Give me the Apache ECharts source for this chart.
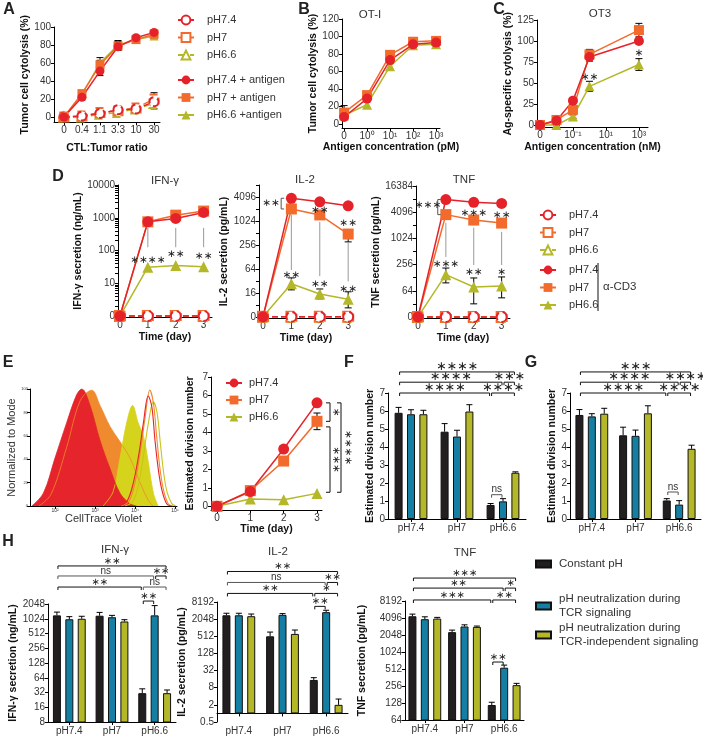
<!DOCTYPE html>
<html><head><meta charset="utf-8">
<script src="https://cdn.jsdelivr.net/npm/echarts@6/dist/echarts.min.js"></script>
<style>html,body{margin:0;padding:0;background:#fff}#c{width:703px;height:737px}</style>
</head><body><div id="c"></div>
<script>
// ================= DATA =================
// Panel A
const A_ratio = ['0','0.4','1.1','3.3','10','30'];
const A_pH74 = [0,1,4,8,9,17];
const A_pH7 = [0,1,5,7,10,20];
const A_pH66 = [0,0,3,5,9,15];
const A_pH74_err = [0,1,1,3,2,6];
const A_pH7_err = [0,1,2,4,2,7];
const A_pH66_err = [0,1,1,4,2,6];
const A_pH74ag = [0,22,51,78,88,94];
const A_pH7ag = [0,26,58,79,86,92];
const A_pH66ag = [0,25,60,80,86,90];
const A_pH74ag_err = [0,3,5,4,2,2];
const A_pH7ag_err = [0,3,5,5,2,2];
const A_pH66ag_err = [0,2,6,5,2,2];
// Panel B (OT-I)
const B_conc = [0,1,10,100,1000];
const B_labels = ['0','10⁰','10¹','10²','10³'];
const B_pH74 = [8,29,73,91,93];
const B_pH7 = [13,33,79,94,95];
const B_pH66 = [10,22,66,90,91];
const B_err = [8,3,3,2,2];
// Panel C (OT3)
const C_conc = [0,0.01,0.1,1,1000];
const C_labels = {'-3':'0','-1':'10⁻¹','1':'10¹','3':'10³'};
const C_pH74 = [0,5,29,81,100];
const C_pH7 = [0,6,18,84,113];
const C_pH66 = [0,0,10,46,72];
const C_pH74_err = [0,2,3,5,3];
const C_pH7_err = [0,2,3,6,8];
const C_pH66_err = [0,1,2,6,7];
const C_stars = [[1,57,'**'],[1000,85,'*']];
// Panel D
const D_day = [0,1,2,3];
const D_ctrl = [0,0,0,0];
const D_IFN_pH74 = [0,750,950,1450];
const D_IFN_pH7 = [0,750,1200,1600];
const D_IFN_pH66 = [0,31,35,32];
const D_IL2_pH74 = [0,3800,3100,2450];
const D_IL2_pH7 = [0,2048,1450,480];
const D_IL2_pH7_lo = [0,2048,1450,305];
const D_IL2_pH66 = [0,27,15,11];
const D_IL2_pH66_lo = [0,19,11.3,6.7];
const D_IL2_pH66_hi = [0,38,20,17];
const D_TNF_pH74 = [0,8000,6900,6500];
const D_TNF_pH7 = [0,3600,2700,2300];
const D_TNF_pH66 = [0,150,78,82];
const D_TNF_pH66_lo = [0,97,32,44];
const D_TNF_pH66_hi = [0,213,126,133];
// Panel D annotations: [day, from, to] and [day, y, text]
const D_IFN_lines = [[1,490,126],[2,490,126],[3,490,126]];
const D_IFN_stars = [[1,51,'****'],[2,78,'**'],[3,68,'**']];
const D_IL2_lines = [[1,1450,60],[2,965,42],[3,287,31]];
const D_IL2_stars = [[1,45,'**'],[2,27,'**'],[3,20,'**'],[2,1930,'**'],[3,910,'**'],[0.28,2900,'**']];
const D_IL2_brk = [0.64,3800,2048];
const D_TNF_lines = [[1,2330,383],[2,1800,250],[3,1450,250]];
const D_TNF_stars = [[1,265,'***'],[2,173,'**'],[3,173,'*'],[2,3930,'***'],[3,3570,'**'],[0.36,6000,'***']];
const D_TNF_brk = [0.71,8000,3600];
// Panel E histogram (log10 fluorescence, % of mode)
const H_red_fill = [[1.42,0],[1.71,11],[2.0,41],[2.29,71],[2.54,95],[2.67,100],[2.875,86],[3.125,56],[3.375,32],[3.625,11],[3.875,2],[4.04,0]];
const H_org_fill = [[1.6,0],[1.9,10],[2.29,50],[2.63,90],[2.92,99],[3.125,86],[3.375,68],[3.625,55],[3.875,41],[4.125,20],[4.33,5],[4.45,0]];
const H_olv_fill = [[3.2,0],[3.45,12],[3.625,41],[3.79,71],[3.94,86],[4.08,71],[4.21,60],[4.33,38],[4.46,11],[4.58,0]];
const H_red_open = [[3.6,0],[3.8,4],[3.96,20],[4.1,45],[4.21,71],[4.33,94],[4.42,85],[4.5,56],[4.58,32],[4.67,14],[4.79,2],[4.9,0]];
const H_org_open = [[3.65,0],[3.85,4],[4.0,20],[4.14,48],[4.25,75],[4.37,99],[4.46,88],[4.54,60],[4.62,33],[4.71,14],[4.83,2],[4.95,0]];
const H_olv_open = [[3.75,0],[3.95,4],[4.1,20],[4.22,45],[4.33,70],[4.46,89],[4.55,80],[4.63,55],[4.71,30],[4.8,12],[4.92,2],[5.02,0]];
const Hist_labels = {2:'10²',3:'10³',4:'10⁴',5:'10⁵'};
// Panel E division
const E_day = [0,1,2,3];
const E_pH74 = [0,0.8,3.1,5.6];
const E_pH7 = [0,0.85,2.45,4.6];
const E_pH66 = [0,0.4,0.35,0.7];
const E_pH7_err = [0,0.1,0.1,0.45];
const E_brk = [[3.39,5.6,4.6,'*',3.56],[3.39,4.3,0.76,'***',3.56],[3.72,5.6,0.76,'****',3.93]];
// Panels F, G, H
const groups = ['pH7.4','pH7','pH6.6'];
const condNames = ['Constant pH','pH neutralization during\nTCR signaling','pH neutralization during\nTCR-independent signaling'];
const F_const = [5.9,4.85,0.78], F_tcr = [5.82,4.58,0.98], F_ind = [5.82,5.97,2.57];
const F_const_e = [0.3,0.45,0.08], F_tcr_e = [0.25,0.35,0.15], F_ind_e = [0.22,0.38,0.05];
const G_const = [5.78,4.65,1.03], G_tcr = [5.7,4.62,0.8], G_ind = [5.85,5.87,3.9];
const G_const_e = [0.3,0.45,0.1], G_tcr_e = [0.15,0.32,0.22], G_ind_e = [0.3,0.42,0.2];
const HI_const = [1200,1180,31], HI_tcr = [1000,1100,1200], HI_ind = [1024,900,31];
const HI_const_u = [1400,1380,38], HI_tcr_u = [1130,1200,1900], HI_ind_u = [1150,980,36];
const HL_const = [2800,512,15], HL_tcr = [2800,2900,3600], HL_ind = [2600,620,2];
const HL_const_u = [3300,720,18], HL_tcr_u = [3300,3200,4200], HL_ind_u = [3100,850,3.2];
const HT_const = [4400,2300,118], HT_tcr = [3900,2900,540], HT_ind = [4000,2850,265];
const HT_const_u = [4800,2500,132], HT_tcr_u = [4300,3100,600], HT_ind_u = [4200,2950,285];
// brackets: [groupA, barA(-1,0,1), groupB, barB, level (axis units), text]
const F_br = [[0,-1,2,1,8.17,'****'],[0,-1,2,0,7.6,'****'],[2,0,2,1,7.6,'***'],[0,-1,2,-1,7.0,'****'],[2,-1,2,1,7.0,'****'],[2,-1,2,0,1.35,'ns']];
const G_br = [[0,-1,2,1,8.17,'***'],[0,-1,2,0,7.6,'****'],[2,0,2,1,7.6,'****'],[0,-1,2,-1,7.0,'****'],[2,-1,2,1,7.0,'****'],[2,-1,2,0,1.5,'ns']];
const HI_br = [[0,-1,2,1,13.58,'**'],[0,-1,2,0,12.9,'ns'],[2,0,2,1,12.9,'**'],[0,-1,2,-1,12.15,'**'],[2,-1,2,1,12.15,'ns'],[2,-1,2,0,11.2,'**']];
const HL_br = [[0,-1,2,1,16.56,'**'],[0,-1,2,0,15.28,'ns'],[2,0,2,1,15.28,'**'],[0,-1,2,-1,14.0,'**'],[2,-1,2,1,14.0,'*'],[2,-1,2,0,12.49,'**']];
const HT_br = [[0,-1,2,1,14.35,'***'],[0,-1,2,0,13.76,'**'],[2,0,2,1,13.76,'*'],[0,-1,2,-1,13.06,'***'],[2,-1,2,1,13.06,'**'],[2,-1,2,0,9.41,'**']];

// ================= STYLE / HELPERS =================
const FONT = 'Liberation Sans, Arial, Helvetica, sans-serif';
const RED='#E5222A', ORANGE='#F26B2C', OLIVE='#B4B728', BLACK='#231F20', BLUE='#147FA2';
const lin = v=>v;
const tIFN = v => v>0 ? Math.log10(v) : 0;
const tIL2 = v => v>0 ? Math.log2(v) : 2;
const tTNF = v => v>0 ? Math.log2(v) : 4;
const tL2 = v => Math.log2(v);
const tB = c => c>0 ? Math.log10(c) : -1;
const tC = c => c>0 ? Math.log10(c) : -3;

const grids = [
 {left:54, top:27, width:106, height:95.4},
 {left:342, top:19, width:98, height:109},
 {left:537, top:20, width:111, height:107.5},
 {left:118, top:185, width:94, height:132},
 {left:259, top:185, width:94, height:133},
 {left:416, top:186, width:94, height:132},
 {left:30, top:389, width:147, height:117},
 {left:211, top:377, width:111, height:133},
 {left:388, top:393, width:138, height:126},
 {left:570, top:393, width:131, height:126},
 {left:48, top:604, width:128, height:118},
 {left:217, top:602, width:131, height:120},
 {left:405, top:601, width:119, height:119}
];
const nameStyle = {fontWeight:'bold', fontSize:10.5, color:'#111', fontFamily:FONT};
function vAxis(gi, min, max, ticks, fmt, name, gap, extra, tickVals){
  return Object.assign({type:'value', gridIndex:gi, min, max, name, nameLocation:'middle', nameGap:gap,
    axisLine:{show:true, onZero:false, lineStyle:{color:'#000', width:1}},
    axisTick:{show:true, length:3, customValues:tickVals||ticks, lineStyle:{color:'#000'}},
    axisLabel:{customValues:ticks, formatter:fmt, fontSize:10, color:'#333', fontFamily:FONT, margin:3},
    splitLine:{show:false}, nameTextStyle:nameStyle}, extra||{});
}
function cAxis(gi){
  return {type:'category', gridIndex:gi, data:groups,
    axisLine:{show:true, lineStyle:{color:'#000'}},
    axisTick:{show:true, alignWithLabel:true, length:3, lineStyle:{color:'#000'}},
    axisLabel:{fontSize:10, color:'#333', fontFamily:FONT, margin:4}};
}
function lineS(gi, name, xs, ys, color, sym, size, dashed){
  return {type:'line', name, xAxisIndex:gi, yAxisIndex:gi, data:xs.map((x,i)=>[x,ys[i]]),
    symbol:sym, symbolSize:size, showSymbol:true, clip:false, z:3,
    itemStyle:{color, borderWidth:1.5, borderType: dashed?'dashed':'solid'},
    lineStyle:{color, width:1.5, type: dashed?'dashed':'solid'}, emphasis:{disabled:true}};
}
function errS(gi, xs, lo, hi, half){
  return {type:'custom', xAxisIndex:gi, yAxisIndex:gi, z:2, clip:false, silent:true,
    data: xs.map((x,i)=>[x, lo[i], hi[i]]), encode:{x:0, y:[1,2]},
    renderItem:(p,api)=>{
      const a=api.coord([api.value(0),api.value(1)]), b=api.coord([api.value(0),api.value(2)]), w=half||3.5;
      return {type:'group', children:[
        {type:'line', shape:{x1:a[0],y1:a[1],x2:b[0],y2:b[1]}, style:{stroke:'#000',lineWidth:1}},
        {type:'line', shape:{x1:a[0]-w,y1:a[1],x2:a[0]+w,y2:a[1]}, style:{stroke:'#000',lineWidth:1}},
        {type:'line', shape:{x1:b[0]-w,y1:b[1],x2:b[0]+w,y2:b[1]}, style:{stroke:'#000',lineWidth:1}}]};
    }};
}
const BW = 8, BSP = 12.4;
function barS(gi, k, vals, tf){
  const col = [BLACK,BLUE,OLIVE][k];
  return {type:'bar', name:condNames[k], xAxisIndex:gi, yAxisIndex:gi, data:vals.map(tf),
    barWidth:BW, barGap:'55%', clip:true, z:2,
    itemStyle:{color:col, borderColor:'#111', borderWidth:1}, emphasis:{disabled:true}};
}
function barErr(gi, k, vals, uppers, tf){
  return {type:'custom', xAxisIndex:gi, yAxisIndex:gi, z:3, clip:false, silent:true,
    data: vals.map((v,i)=>[i, tf(v), tf(uppers[i])]), encode:{x:0, y:[1,2]},
    renderItem:(p,api)=>{
      const a=api.coord([api.value(0),api.value(1)]), b=api.coord([api.value(0),api.value(2)]);
      const x=a[0]+(k-1)*BSP;
      return {type:'group', children:[
        {type:'line', shape:{x1:x,y1:a[1],x2:x,y2:b[1]}, style:{stroke:'#000',lineWidth:1}},
        {type:'line', shape:{x1:x-3,y1:b[1],x2:x+3,y2:b[1]}, style:{stroke:'#000',lineWidth:1}}]};
    }};
}
const mapArr = (a,f)=>a.map(f);
const addE = (v,e,s)=>v.map((x,i)=>x+s*e[i]);
// log10 minor tick positions for the IFN axis
const ifnTicks = [];
for (let d=0; d<4; d++) for (let m=1; m<10; m++) ifnTicks.push(d + Math.log10(m));
ifnTicks.push(4);

// ================= AXES =================
const xAxis = [
  vAxis(0,-0.55,5.33,[0,1,2,3,4,5],v=>A_ratio[v],'CTL:Tumor ratio',20),
  vAxis(1,-1.09,3.17,[-1,0,1,2,3],v=>B_labels[v+1],'Antigen concentration (pM)',13),
  vAxis(2,-3.18,3.55,[-3,-1,1,3],v=>C_labels[v],'Antigen concentration (nM)',13),
  vAxis(3,-0.07,3.3,[0,1,2,3],v=>v,'Time (day)',15),
  vAxis(4,-0.14,3.17,[0,1,2,3],v=>v,'Time (day)',15),
  vAxis(5,-0.07,3.3,[0,1,2,3],v=>v,'Time (day)',15),
  vAxis(6,1.375,5.05,[2,3,4,5],v=>Hist_labels[v],'CellTrace Violet',7,
        {nameTextStyle:{fontSize:11,color:'#333',fontFamily:FONT}, axisLabel:{customValues:[2,3,4,5],formatter:v=>Hist_labels[v],fontSize:5,color:'#333',margin:2}}),
  vAxis(7,-0.18,3.15,[0,1,2,3],v=>v,'Time (day)',12),
  cAxis(8), cAxis(9), cAxis(10), cAxis(11), cAxis(12)
];
const yAxis = [
  vAxis(0,-6,100,[0,20,40,60,80,100],v=>v,'Tumor cell cytolysis (%)',14),
  vAxis(1,-4.6,120,[0,20,40,60,80,100,120],v=>v,'Tumor cell cytolysis (%)',22),
  vAxis(2,-3,125,[0,25,50,75,100,125],v=>v,'Ag-specific cytolysis (%)',22),
  vAxis(3,-0.03,4,[0,1,2,3,4],v=>v===0?'0':String(Math.round(Math.pow(10,v))),'IFN-γ secretion (ng/mL)',30,null,ifnTicks),
  vAxis(4,1.9,13,[2,4,6,8,10,12],v=>v===2?'0':String(Math.pow(2,v)),'IL-2 secretion (pg/mL)',24,null,[2,3,4,5,6,7,8,9,10,11,12,13]),
  vAxis(5,3.92,14,[4,6,8,10,12,14],v=>v===4?'0':String(Math.pow(2,v)),'TNF secretion (pg/mL)',31,null,[4,5,6,7,8,9,10,11,12,13,14]),
  vAxis(6,0,100,[0,20,40,60,80,100],v=>v,'Normalized to Mode',10,
        {nameTextStyle:{fontSize:11,color:'#333',fontFamily:FONT}, axisLabel:{customValues:[0,20,40,60,80,100],fontSize:4,color:'#333',margin:2}}),
  vAxis(7,-0.2,7,[0,1,2,3,4,5,6,7],v=>v,'Estimated division number',15),
  vAxis(8,0,7,[0,1,2,3,4,5,6,7],v=>v,'Estimated division number',10),
  vAxis(9,0,7,[0,1,2,3,4,5,6,7],v=>v,'Estimated division number',8),
  vAxis(10,3,11,[3,4,5,6,7,8,9,10,11],v=>String(Math.pow(2,v)),'IFN-γ secretion (ng/mL)',27),
  vAxis(11,-1,13,[-1,1,3,5,7,9,11,13],v=>String(Math.pow(2,v)),'IL-2 secretion (pg/mL)',20),
  vAxis(12,6,13,[6,7,8,9,10,11,12,13],v=>String(Math.pow(2,v)),'TNF secretion (pg/mL)',37)
];

// ================= SERIES =================
const idxA = A_ratio.map((_,i)=>i);
const series = [];
// A
series.push(errS(0,idxA,addE(A_pH66,A_pH66_err,-1),addE(A_pH66,A_pH66_err,1)));
series.push(errS(0,idxA,addE(A_pH7,A_pH7_err,-1),addE(A_pH7,A_pH7_err,1)));
series.push(errS(0,idxA,addE(A_pH74,A_pH74_err,-1),addE(A_pH74,A_pH74_err,1)));
series.push(errS(0,idxA,addE(A_pH66ag,A_pH66ag_err,-1),addE(A_pH66ag,A_pH66ag_err,1)));
series.push(errS(0,idxA,addE(A_pH7ag,A_pH7ag_err,-1),addE(A_pH7ag,A_pH7ag_err,1)));
series.push(errS(0,idxA,addE(A_pH74ag,A_pH74ag_err,-1),addE(A_pH74ag,A_pH74ag_err,1)));
series.push(lineS(0,'pH6.6',idxA,A_pH66,OLIVE,'emptyTriangle',9,true));
series.push(lineS(0,'pH7',idxA,A_pH7,ORANGE,'emptyRect',9,true));
series.push(lineS(0,'pH7.4',idxA,A_pH74,RED,'emptyCircle',9,true));
series.push(lineS(0,'pH6.6 +antigen',idxA,A_pH66ag,OLIVE,'triangle',9,false));
series.push(lineS(0,'pH7 + antigen',idxA,A_pH7ag,ORANGE,'rect',9,false));
series.push(lineS(0,'pH7.4 + antigen',idxA,A_pH74ag,RED,'circle',9,false));
// B
const xB = B_conc.map(tB);
series.push(errS(1,xB,addE(B_pH7,B_err,-1),addE(B_pH7,B_err,1)));
series.push(lineS(1,'B pH6.6',xB,B_pH66,OLIVE,'triangle',10,false));
series.push(lineS(1,'B pH7',xB,B_pH7,ORANGE,'rect',10,false));
series.push(lineS(1,'B pH7.4',xB,B_pH74,RED,'circle',10,false));
// C
const xC = C_conc.map(tC);
series.push(errS(2,xC,addE(C_pH66,C_pH66_err,-1),addE(C_pH66,C_pH66_err,1)));
series.push(errS(2,xC,addE(C_pH7,C_pH7_err,-1),addE(C_pH7,C_pH7_err,1)));
series.push(errS(2,xC,addE(C_pH74,C_pH74_err,-1),addE(C_pH74,C_pH74_err,1)));
series.push(lineS(2,'C pH6.6',xC,C_pH66,OLIVE,'triangle',10,false));
series.push(lineS(2,'C pH7',xC,C_pH7,ORANGE,'rect',10,false));
series.push(lineS(2,'C pH7.4',xC,C_pH74,RED,'circle',10,false));
// D
const Dsets = [
  {gi:3, tf:tIFN, r:D_IFN_pH74, o:D_IFN_pH7, g:D_IFN_pH66},
  {gi:4, tf:tIL2, r:D_IL2_pH74, o:D_IL2_pH7, g:D_IL2_pH66},
  {gi:5, tf:tTNF, r:D_TNF_pH74, o:D_TNF_pH7, g:D_TNF_pH66}
];
Dsets.forEach((d,j)=>{
  const suf = j===0 ? '\u200b' : '\u200b'.repeat(3+j);
  const suf2 = j===0 ? '\u200b\u200b' : '\u200b'.repeat(6+j);
  series.push(lineS(d.gi,'pH6.6'+suf,D_day,mapArr(D_ctrl,d.tf),OLIVE,'emptyTriangle',10,true));
  series.push(lineS(d.gi,'pH7'+suf,D_day,mapArr(D_ctrl,d.tf),ORANGE,'emptyRect',10,true));
  series.push(lineS(d.gi,'pH7.4'+suf,D_day,mapArr(D_ctrl,d.tf),RED,'emptyCircle',10,true));
  series.push(lineS(d.gi,'pH6.6'+suf2,D_day,mapArr(d.g,d.tf),OLIVE,'triangle',11,false));
  series.push(lineS(d.gi,'pH7'+suf2,D_day,mapArr(d.o,d.tf),ORANGE,'rect',11,false));
  series.push(lineS(d.gi,'pH7.4'+suf2,D_day,mapArr(d.r,d.tf),RED,'circle',11,false));
});
series.push(errS(4,D_day.slice(1),D_IL2_pH66_lo.slice(1).map(tIL2),D_IL2_pH66_hi.slice(1).map(tIL2)));
series.push(errS(4,[3],[tIL2(D_IL2_pH7_lo[3])],[tIL2(D_IL2_pH7[3])]));
series.push(errS(5,D_day.slice(1),D_TNF_pH66_lo.slice(1).map(tTNF),D_TNF_pH66_hi.slice(1).map(tTNF)));
// E histogram
function histS(name, pts, color, fill){
  return {type:'line', name, xAxisIndex:6, yAxisIndex:6, data:pts, smooth:0.35, symbol:'none', clip:true,
    lineStyle:{color, width: fill?0.8:1.1}, areaStyle: fill?{color, opacity:1}:undefined, z:2, emphasis:{disabled:true}};
}
series.push(histS('h1',H_org_fill,'#F08A2E',true));
series.push(histS('h2',H_olv_fill,'#D6D31C',true));
series.push(histS('h3',H_red_fill,'#E5252B',true));
series.push(histS('h4',H_olv_open,'#C9C51B',false));
series.push(histS('h5',H_org_open,'#F08A2E',false));
series.push(histS('h6',H_red_open,'#E5252B',false));
// E division
series.push(errS(7,E_day,addE(E_pH7,E_pH7_err,-1),addE(E_pH7,E_pH7_err,1)));
series.push(lineS(7,'pH6.6'+'\u200b'.repeat(10),E_day,E_pH66,OLIVE,'triangle',11,false));
series.push(lineS(7,'pH7'+'\u200b'.repeat(10),E_day,E_pH7,ORANGE,'rect',11,false));
series.push(lineS(7,'pH7.4'+'\u200b'.repeat(10),E_day,E_pH74,RED,'circle',11,false));
// F, G
[[8,[F_const,F_tcr,F_ind],[F_const_e,F_tcr_e,F_ind_e]],[9,[G_const,G_tcr,G_ind],[G_const_e,G_tcr_e,G_ind_e]]].forEach(([gi,vals,errs])=>{
  vals.forEach((v,k)=>{ series.push(barS(gi,k,v,lin)); series.push(barErr(gi,k,v,addE(v,errs[k],1),lin)); });
});
// H
[[10,[HI_const,HI_tcr,HI_ind],[HI_const_u,HI_tcr_u,HI_ind_u]],
 [11,[HL_const,HL_tcr,HL_ind],[HL_const_u,HL_tcr_u,HL_ind_u]],
 [12,[HT_const,HT_tcr,HT_ind],[HT_const_u,HT_tcr_u,HT_ind_u]]].forEach(([gi,vals,ups])=>{
  vals.forEach((v,k)=>{ series.push(barS(gi,k,v,tL2)); series.push(barErr(gi,k,v,ups[k],tL2)); });
});

// ================= LEGENDS =================
const legTxt = {fontSize:11, color:'#333', fontFamily:FONT, padding:[0,0,0,8]};
function leg(names, left, top, gap, extra){
  return Object.assign({data:names, orient:'vertical', left, top, itemGap:gap, itemWidth:16, itemHeight:11,
    padding:0, textStyle:legTxt, selectedMode:false}, extra||{});
}
const barLegTxt = Object.assign({},legTxt,{fontSize:11.5,lineHeight:14,padding:[0,0,0,3]});
const legend = [
  leg(['pH7.4','pH7','pH6.6'],177,14.5,6.5),
  leg(['pH7.4 + antigen','pH7 + antigen','pH6.6 +antigen'],177,74.5,6.5),
  leg(['pH7.4\u200b','pH7\u200b','pH6.6\u200b'],539,209.5,6.5),
  leg(['pH7.4\u200b\u200b','pH7\u200b\u200b','pH6.6\u200b\u200b'],539,264.5,6.5),
  leg(['pH7.4'+'\u200b'.repeat(10),'pH7'+'\u200b'.repeat(10),'pH6.6'+'\u200b'.repeat(10)],225,377.5,6,{textStyle:Object.assign({},legTxt,{padding:[0,0,0,2]})}),
  leg([condNames[0]],535,557,0,{icon:'rect',itemWidth:15,itemHeight:7,textStyle:barLegTxt}),
  leg([condNames[1]],535,592,0,{icon:'rect',itemWidth:15,itemHeight:7,textStyle:barLegTxt}),
  leg([condNames[2]],535,621,0,{icon:'rect',itemWidth:15,itemHeight:7,textStyle:barLegTxt})
];

const chart = echarts.init(document.getElementById('c'), null, {width:703, height:737, renderer:'canvas'});
chart.setOption({animation:false, textStyle:{fontFamily:FONT}, grid:grids, xAxis, yAxis, legend, series});

// ================= ANNOTATIONS (via library scales) =================
const P = (gi,x,y)=>chart.convertToPixel({gridIndex:gi},[x,y]);
const G = [];
const T = (x,y,t,font,opt)=>G.push(Object.assign({type:'text', x, y, z:50, silent:true,
  style:{text:t, font, fill:'#222', align:'center', verticalAlign:'middle', textAlign:'center', textVerticalAlign:'middle'}}, opt||{}));
const L = (x1,y1,x2,y2,c,w)=>G.push({type:'line', z:40, silent:true, shape:{x1,y1,x2,y2}, style:{stroke:c||'#111', lineWidth:w||1}});
const STAR = s=>s.replace(/\*/g,'\u2217');
const sf = s=>s+'px DejaVu Sans';
// panel letters
[['A',9,10],['B',304,10],['C',499,10],['D',58,177],['E',8,363],['F',349,363],['G',531,363],['H',8,542]].forEach(([t,x,y])=>T(x,y,t,'bold 16px '+FONT));
// titles
[['OT-I',370,15],['OT3',600,14],['IFN-γ',165,181],['IL-2',305,180],['TNF',464,180],['IFN-γ',115,550],['IL-2',278,552],['TNF',465,553]].forEach(([t,x,y])=>T(x,y,t,'11.5px '+FONT,{style:{text:t,font:'11.5px '+FONT,fill:'#333',align:'center',verticalAlign:'middle'}}));
// alpha-CD3
L(598,263,598,311,'#111',1);
T(603,287,'α-CD3','11.5px '+FONT,{style:{text:'α-CD3',font:'11.5px '+FONT,fill:'#333',align:'left',verticalAlign:'middle'}});
// C stars
C_stars.forEach(([c,y,t])=>{const p=P(2,tC(c),y); T(p[0],p[1],STAR(t),sf(10.5));});
// D lines and stars
function dAnn(gi, tf, lines, stars){
  lines.forEach(([d,a,b])=>{const p=P(gi,d,tf(a)), q=P(gi,d,tf(b)); L(p[0],p[1],q[0],q[1],'#999',1);});
  stars.forEach(([d,y,t])=>{const p=P(gi,d,tf(y)); T(p[0],p[1],STAR(t),sf(10.5));});
}
dAnn(3,tIFN,D_IFN_lines,D_IFN_stars);
dAnn(4,tIL2,D_IL2_lines,D_IL2_stars);
dAnn(5,tTNF,D_TNF_lines,D_TNF_stars);
function sideBrk(gi, tf, [d,a,b]){
  const p=P(gi,d,tf(a)), q=P(gi,d,tf(b));
  L(p[0],p[1],q[0],q[1],'#555',1); L(p[0],p[1],p[0]+3,p[1],'#555',1); L(q[0],q[1],q[0]+3,q[1],'#555',1);
}
sideBrk(4,tIL2,D_IL2_brk);
sideBrk(5,tTNF,D_TNF_brk);
// E brackets
E_brk.forEach(([x,a,b,t,tx])=>{
  const p=P(7,x,a), q=P(7,x,b), r=P(7,tx,(a+b)/2);
  L(p[0],p[1],q[0],q[1]); L(p[0]-4,p[1],p[0],p[1]); L(q[0]-4,q[1],q[0],q[1]);
  T(r[0],r[1],STAR(t),sf(10.5),{rotation:-Math.PI/2});
});
// bar brackets
function barBr(gi, list, size){
  list.forEach(([c1,k1,c2,k2,lev,t])=>{
    const p=P(gi,c1,lev), q=P(gi,c2,lev);
    const x1=p[0]+k1*BSP+1, x2=q[0]+k2*BSP-1, y=p[1];
    const col = t==='ns' ? '#555' : '#111';
    L(x1,y,x2,y,col); L(x1,y,x1,y+3,col); L(x2,y,x2,y+3,col);
    if (t==='ns') T((x1+x2)/2,y-5,'ns','10px '+FONT,{style:{text:'ns',font:'10px '+FONT,fill:'#333',align:'center',verticalAlign:'middle'}});
    else T((x1+x2)/2,y-5,STAR(t),sf(size));
  });
}
barBr(8,F_br,12.5); barBr(9,G_br,12.5); barBr(10,HI_br,10); barBr(11,HL_br,10); barBr(12,HT_br,10);
chart.setOption({graphic:{elements:G}});
</script></body></html>
